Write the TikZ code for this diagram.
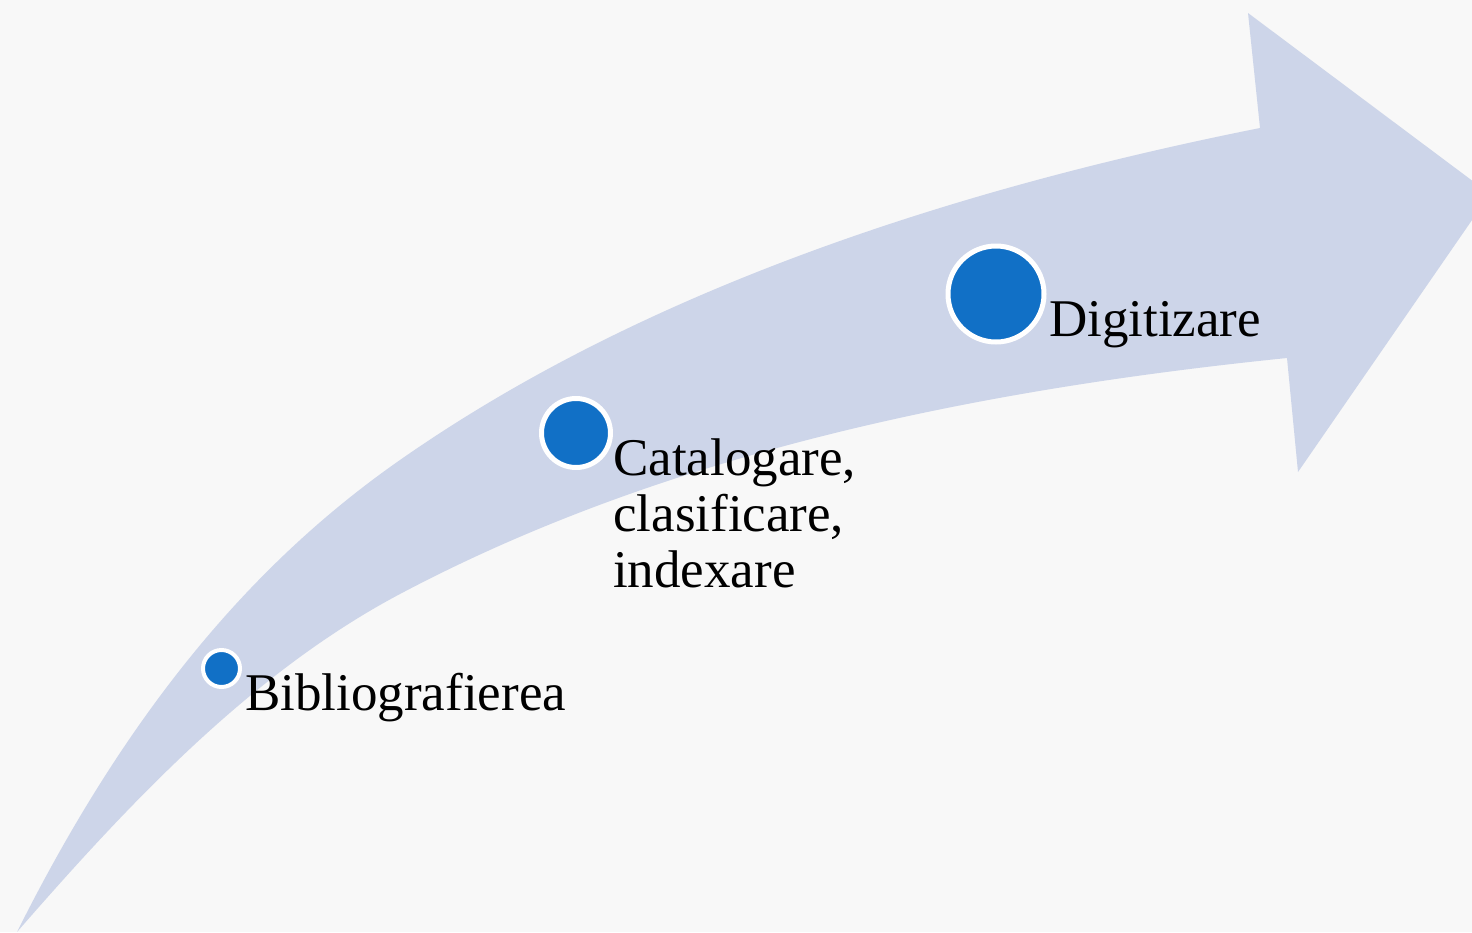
\documentclass[tikz,border=0pt]{standalone}
\usepackage{fontspec}
\setmainfont{Liberation Serif}
\definecolor{bgc}{RGB}{248,248,248}
\definecolor{arrowc}{RGB}{205,213,233}
\definecolor{dotc}{RGB}{17,112,198}
\begin{document}
\begin{tikzpicture}[x=1pt,y=-1pt,
  dot/.style={circle,fill=dotc,draw=white,line width=5pt,inner sep=0pt},
  lbl/.style={anchor=base west,inner sep=0pt,font=\fontsize{53}{56}\selectfont,text=black,align=left}]
\fill[bgc] (0,0) rectangle (1472,932);
\useasboundingbox (0,0) rectangle (1472,932);
\begin{scope}
\clip (0,0) rectangle (1472,932);
\fill[arrowc] (17,932) .. controls (133,700) and (261,557) .. (400,460)
  .. controls (646,288) and (959,188) .. (1260,128)
  -- (1248,13) -- (1490,194) -- (1298,472) -- (1287,358)
  .. controls (983,389) and (670,451) .. (400,594)
  .. controls (251,673) and (128.5,804) .. (17,932) -- cycle;
\end{scope}
\node[dot,minimum size=37pt,line width=4pt] (d1) at (221.5,668.5) {};
\node[dot,minimum size=69pt] (d2) at (576,433) {};
\node[dot,minimum size=96pt] (d3) at (996,294) {};
\node[lbl] (t1) at (245,710) {Bibliografierea};
\node[lbl] (t2) at (613,587) {Catalogare,\\clasificare,\\indexare};
\node[lbl] (t3) at (1049,336) {Digitizare};
\end{tikzpicture}
\end{document}
